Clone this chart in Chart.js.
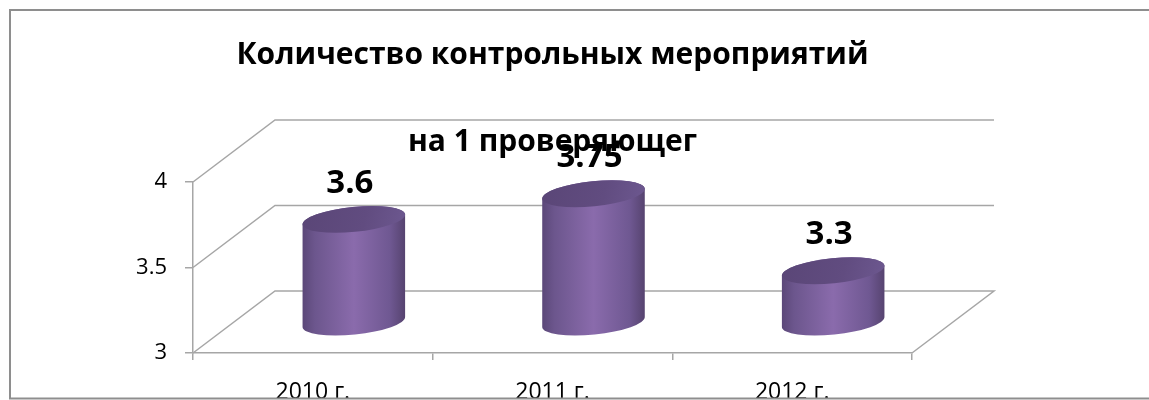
<!DOCTYPE html>
<html>
<head>
<meta charset="utf-8">
<script src="https://cdn.jsdelivr.net/npm/chart.js@4.4.0/dist/chart.umd.min.js"></script>
<style>
  html, body { margin: 0; background: #fff; overflow: hidden; }
  canvas { display: block; }
</style>
</head>
<body>
<canvas id="inspections" width="1149" height="400"></canvas>
<script>
const years = ['2010 г.', '2011 г.', '2012 г.'];
const perInspector = [3.6, 3.75, 3.3];
const axisTicks = [3, 3.5, 4];
const titleLines = ['Количество контрольных мероприятий', 'на 1 проверяющег'];

const FONT = "'Open Sans', sans-serif";
const GRID = '#a6a6a6';
// how far the back wall sits behind the front axes
const DEPTH_X = 82, DEPTH_Y = -62;

// back walls, floor and the cylinders go under the axes and the title
const cylinders3d = {
  id: 'cylinders3d',
  beforeDraw(chart) {
    const { ctx, chartArea: a, scales: { y } } = chart;
    ctx.save();
    ctx.fillStyle = '#fff';
    ctx.fillRect(0, 0, chart.width, chart.height);

    ctx.strokeStyle = GRID;
    ctx.lineWidth = 1.5;
    axisTicks.forEach(v => {
      const py = y.getPixelForValue(v);
      ctx.beginPath();
      ctx.moveTo(a.left, py);
      ctx.lineTo(a.left + DEPTH_X, py + DEPTH_Y);
      ctx.lineTo(a.right + DEPTH_X, py + DEPTH_Y);
      if (v === y.min) ctx.lineTo(a.right, py);
      ctx.stroke();
    });

    const meta = chart.getDatasetMeta(0);
    const base = y.getPixelForValue(y.min) + DEPTH_Y / 2;
    const ry = 12.5, tilt = -0.1;
    meta.data.forEach((bar, i) => {
      const cx = bar.x + DEPTH_X / 2;
      const rx = bar.width / 2;
      const top = y.getPixelForValue(perInspector[i]) + DEPTH_Y / 2;

      const body = ctx.createLinearGradient(cx - rx, 0, cx + rx, 0);
      body.addColorStop(0, '#5b4778');
      body.addColorStop(0.12, '#6c568d');
      body.addColorStop(0.5, '#8a6bac');
      body.addColorStop(0.85, '#6f5892');
      body.addColorStop(1, '#56436f');
      ctx.fillStyle = body;
      ctx.beginPath();
      ctx.ellipse(cx, base, rx, ry, tilt, Math.PI, 0, true);
      ctx.ellipse(cx, top, rx, ry, tilt, 0, Math.PI, true);
      ctx.closePath();
      ctx.fill();

      const cap = ctx.createLinearGradient(cx - rx, top - ry, cx + rx, top + ry);
      cap.addColorStop(0, '#5a4677');
      cap.addColorStop(0.6, '#614c80');
      cap.addColorStop(1, '#6d5890');
      ctx.fillStyle = cap;
      ctx.beginPath();
      ctx.ellipse(cx, top, rx, ry, tilt, 0, Math.PI * 2);
      ctx.fill();

      // value label above the cylinder
      ctx.save();
      ctx.beginPath();
      ctx.rect(0, 143, chart.width, chart.height);
      ctx.clip();
      ctx.fillStyle = '#000';
      ctx.font = 'bold 33px ' + FONT;
      ctx.textAlign = 'center';
      ctx.textBaseline = 'middle';
      ctx.fillText(String(perInspector[i]), cx - 4, top - 36);
      ctx.restore();
    });
    ctx.restore();
  },
  afterDraw(chart) {
    const { ctx } = chart;
    ctx.save();
    ctx.fillStyle = '#fff';
    ctx.fillRect(0, 399, chart.width, 1);
    // frame is open on the right, it runs past the canvas edge
    ctx.strokeStyle = '#8e8e8e';
    ctx.lineWidth = 2;
    ctx.beginPath();
    ctx.moveTo(chart.width, 10);
    ctx.lineTo(10, 10);
    ctx.lineTo(10, 398.5);
    ctx.lineTo(chart.width, 398.5);
    ctx.stroke();
    ctx.restore();
  }
};

new Chart(document.getElementById('inspections'), {
  type: 'bar',
  data: {
    labels: years,
    datasets: [{
      data: perInspector,
      backgroundColor: 'rgba(0,0,0,0)',
      borderWidth: 0,
      barPercentage: 0.43,
      categoryPercentage: 1
    }]
  },
  options: {
    responsive: false,
    animation: false,
    events: [],
    layout: { padding: { left: 10, right: 237, top: 0, bottom: 0 } },
    plugins: {
      legend: { display: false },
      tooltip: { enabled: false },
      title: {
        display: true,
        fullSize: false,
        text: titleLines,
        color: '#000',
        font: { family: FONT, size: 30, weight: 'bold', lineHeight: 2.9 },
        padding: { top: 12, bottom: -4 }
      }
    },
    scales: {
      x: {
        afterFit(scale) { scale.height = 47; },
        border: { display: true, color: GRID, width: 1.5 },
        grid: { offset: true, drawOnChartArea: false, drawTicks: true, tickLength: 7, color: GRID, lineWidth: 1.5 },
        ticks: { color: '#000', font: { family: FONT, size: 23 }, padding: 19, maxRotation: 0 }
      },
      y: {
        min: 3,
        max: 4,
        afterFit(scale) { scale.width = 183; },
        afterBuildTicks(scale) { scale.ticks = axisTicks.map(v => ({ value: v })); },
        border: { display: true, color: GRID, width: 1.5 },
        grid: { drawOnChartArea: false, drawTicks: true, tickLength: 8, color: GRID, lineWidth: 1.5 },
        ticks: {
          color: '#000',
          font: { family: FONT, size: 22 },
          padding: 18,
          callback: v => String(v)
        }
      }
    }
  },
  plugins: [cylinders3d]
});
</script>
</body>
</html>
